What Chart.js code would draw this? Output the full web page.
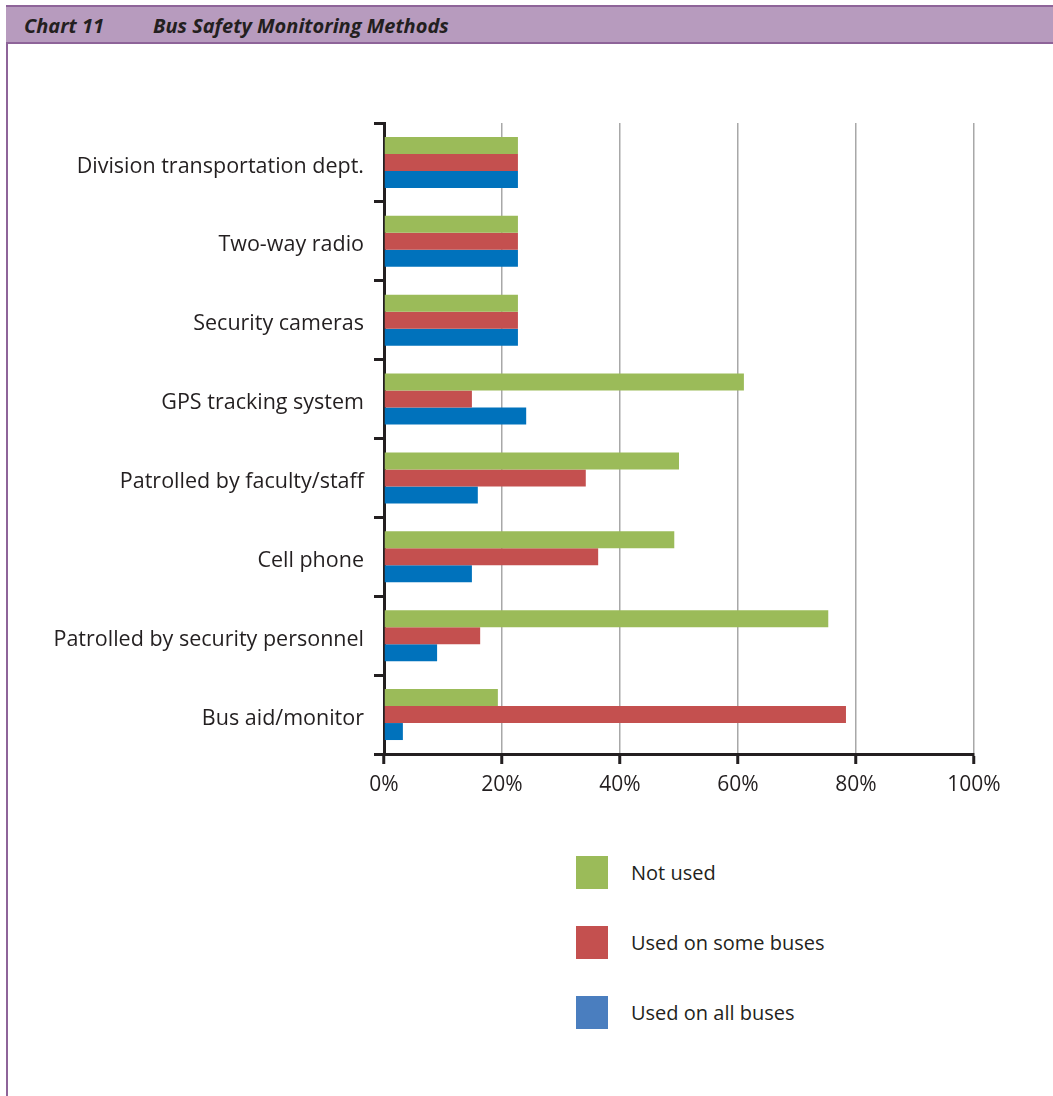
<!DOCTYPE html>
<html>
<head>
<meta charset="utf-8">
<title>Bus Safety Monitoring Methods</title>
<script src="https://cdn.jsdelivr.net/npm/chart.js@4.4.1/dist/chart.umd.min.js"></script>
<style>
    html, body { margin: 0; padding: 0; background: #fff; }
    body {
        width: 1053px; height: 1096px; position: relative; overflow: hidden;
        font-family: 'Open Sans', 'DejaVu Sans', sans-serif; color: #231f20;
    }
    .frame-left { position: absolute; left: 6px; top: 5px; bottom: 0; width: 2px; background: #8e6499; }
    .header {
        position: absolute; left: 6px; right: 0; top: 5px; height: 35px;
        background: #b79bbe; border-top: 2px solid #8e6499; border-bottom: 2px solid #8e6499;
        font-weight: bold; font-style: italic; font-size: 20px; line-height: 38px;
    }
    .header span { position: absolute; top: 0; }
    .chart-wrap { position: absolute; left: 0; top: 50px; width: 1053px; height: 760px; }
    .legend { position: absolute; left: 576px; top: 856px; }
    .legend-item { display: flex; align-items: center; height: 33px; margin-bottom: 37px; font-size: 20px; }
    .legend-swatch { width: 32px; height: 33px; margin-right: 23px; }
</style>
</head>
<body>
<div class="frame-left"></div>
<div class="header">
    <span style="left: 18px;">Chart 11</span>
    <span style="left: 147px;">Bus Safety Monitoring Methods</span>
</div>
<div class="chart-wrap"><canvas id="busSafetyChart"></canvas></div>
<div class="legend" id="busSafetyLegend"></div>

<script>
// Share of divisions (%) per monitoring method
const categories = [
    'Division transportation dept.',
    'Two-way radio',
    'Security cameras',
    'GPS tracking system',
    'Patrolled by faculty/staff',
    'Cell phone',
    'Patrolled by security personnel',
    'Bus aid/monitor'
];
const seriesNames = ['Not used', 'Used on some buses', 'Used on all buses'];
const notUsed   = [22.7, 22.7, 22.7, 61.0, 50.0, 49.2, 75.3, 19.3];
const someBuses = [22.7, 22.7, 22.7, 14.9, 34.2, 36.3, 16.3, 78.3];
const allBuses  = [22.7, 22.7, 22.7, 24.1, 15.9, 14.9, 9.0, 3.2];
const xTickValues = [0, 20, 40, 60, 80, 100];

const barColors = ['#9bbb59', '#c4504f', '#0072bc'];
const legendColors = ['#9bbb59', '#c4504f', '#4a7ebf'];
const textColor = '#231f20';
const fontFamily = "'Open Sans', 'DejaVu Sans', sans-serif";

const seriesValues = [notUsed, someBuses, allBuses];

function buildLegend() {
    const legend = document.getElementById('busSafetyLegend');
    seriesNames.forEach((name, i) => {
        const item = document.createElement('div');
        item.className = 'legend-item';
        const swatch = document.createElement('div');
        swatch.className = 'legend-swatch';
        swatch.style.background = legendColors[i];
        const label = document.createElement('span');
        label.textContent = name;
        item.appendChild(swatch);
        item.appendChild(label);
        legend.appendChild(item);
    });
}

function createChart() {
    const ctx = document.getElementById('busSafetyChart').getContext('2d');

    new Chart(ctx, {
        type: 'bar',
        data: {
            labels: categories,
            datasets: seriesNames.map((name, i) => ({
                label: name,
                data: seriesValues[i],
                backgroundColor: barColors[i],
                borderWidth: 0,
                barPercentage: 1,
                categoryPercentage: 0.646
            }))
        },
        options: {
            indexAxis: 'y',
            responsive: true,
            maintainAspectRatio: false,
            animation: false,
            layout: {
                padding: { top: 73, right: 79, left: 0, bottom: 0 }
            },
            plugins: {
                legend: { display: false },
                tooltip: { enabled: false }
            },
            scales: {
                x: {
                    min: 0,
                    max: 100,
                    afterBuildTicks: (scale) => {
                        scale.ticks = xTickValues.map(v => ({ value: v }));
                    },
                    afterFit: (scale) => { scale.height = 56; },
                    ticks: {
                        color: textColor,
                        padding: 8,
                        maxRotation: 0,
                        font: { family: fontFamily, size: 21 },
                        callback: (value) => value + '%'
                    },
                    grid: {
                        color: '#a8a8a8',
                        lineWidth: 1.5,
                        tickColor: textColor,
                        tickWidth: 3,
                        tickLength: 10
                    },
                    border: { color: textColor, width: 3 }
                },
                y: {
                    afterFit: (scale) => { scale.width = 384; },
                    ticks: {
                        color: textColor,
                        padding: 10,
                        labelOffset: 4,
                        font: { family: fontFamily, size: 21.5 }
                    },
                    grid: {
                        offset: true,
                        drawOnChartArea: false,
                        color: textColor,
                        lineWidth: 3,
                        tickLength: 10
                    },
                    border: { color: textColor, width: 3 }
                }
            }
        }
    });
}

document.addEventListener('DOMContentLoaded', () => {
    buildLegend();
    createChart();
});
</script>
</body>
</html>
